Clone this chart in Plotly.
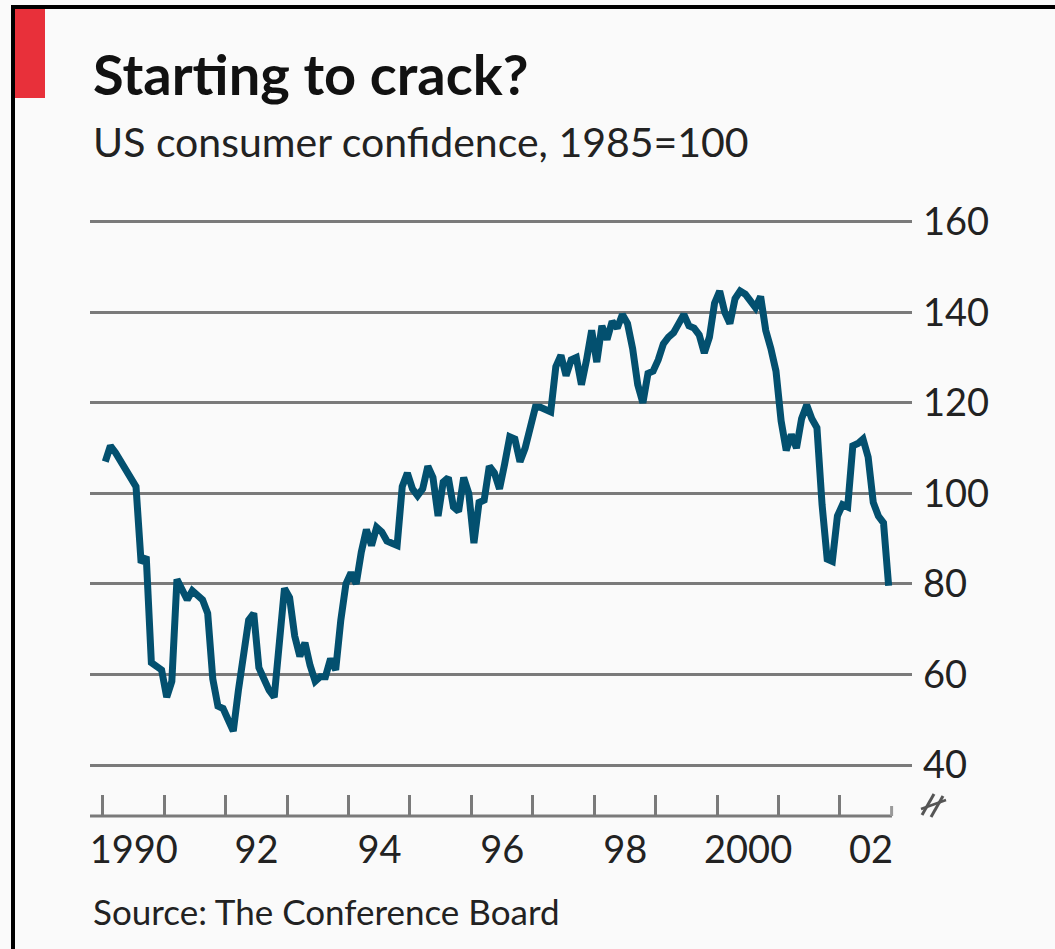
import plotly.graph_objects as go

# ---------------- data ----------------
years = list(range(1990, 2003))
cc_1990 = [107, 110.5, 109, 107, 105, 103, 101.5, 84.7, 86, 62.6, 61.7, 61]
cc_1991 = [55, 58.5, 81, 79, 76.5, 78.5, 77.5, 76.5, 73.5, 59, 53, 52.5]
cc_1992 = [50, 47.5, 56.5, 65, 72, 73.5, 61.5, 59, 56.5, 55, 65.5, 79]
cc_1993 = [77, 68.5, 64, 67, 62, 58.5, 59.5, 59.5, 63.5, 61, 72, 80]
cc_1994 = [82.5, 80, 87, 92, 88.5, 92.5, 91.5, 89.5, 89, 88.5, 101.5, 104.5]
cc_1995 = [101, 99.5, 101, 106, 103.5, 95, 102.5, 103.5, 97, 96, 103.5, 100]
cc_1996 = [89, 98, 98.5, 106, 104.5, 101, 106.5, 112.5, 112, 107, 110, 114]
cc_1997 = [119, 119, 118.5, 118, 128, 130.5, 126, 129.5, 130, 124, 129.5, 136]
cc_1998 = [129, 137, 134, 138, 136.5, 139.5, 137.5, 132, 124, 120, 126.5, 127]
cc_1999 = [129.5, 133, 134.5, 135.5, 137.5, 139.5, 137, 136.5, 135, 131, 134.5, 142]
cc_2000 = [144.7, 140, 137.5, 143, 144.7, 144, 142.5, 141, 143.5, 136, 132, 127]
cc_2001 = [116, 109.5, 113, 110, 116.5, 119.5, 116.5, 114.5, 97.5, 85.5, 85, 95]
cc_2002 = [97.5, 97, 110.5, 111, 112, 108, 98, 95, 93.5, 79.6]

x_tick_years = list(range(1990, 2003))
x_tick_text = ["1990", "", "92", "", "94", "", "96", "", "98", "", "2000", "", "02"]
y_tick_vals = [40, 60, 80, 100, 120, 140, 160]

title_text = "Starting to crack?"
subtitle_text = "US consumer confidence, 1985=100"
source_text = "Source: The Conference Board"

# ---------------- build series ----------------
series = [cc_1990, cc_1991, cc_1992, cc_1993, cc_1994, cc_1995, cc_1996,
          cc_1997, cc_1998, cc_1999, cc_2000, cc_2001, cc_2002]
xs, ys = [], []
for yr, vals in zip(years, series):
    for m, v in enumerate(vals):
        xs.append(yr + m / 12 + 1 / 24)   # mid-month position
        ys.append(v)

# ---------------- geometry ----------------
W_FIG, H_FIG = 1055, 949
L, R_EDGE = 90, 912          # plot area left/right (px)
T, B = 200, 816              # plot area top/bottom (px)
PW, PH = R_EDGE - L, B - T

def px_x(px):
    return (px - L) / PW

def px_y(py):
    return (B - py) / PH

BG = "#fafafa"
GRID = "#7a7a7a"
LINE = "#03506f"
FONT = "Lato, 'Open Sans', sans-serif"

fig = go.Figure()
fig.add_trace(go.Scatter(
    x=xs, y=ys, mode="lines",
    line=dict(color=LINE, width=7, shape="linear"),
    hoverinfo="skip", showlegend=False,
))

fig.update_layout(
    width=W_FIG, height=H_FIG,
    margin=dict(l=L, r=W_FIG - R_EDGE, t=T, b=H_FIG - B, pad=0),
    paper_bgcolor=BG, plot_bgcolor=BG,
    font=dict(family=FONT, color="#222"),
    showlegend=False,
    xaxis=dict(
        range=[1989.793, 2003.172],
        tickmode="array", tickvals=x_tick_years, ticktext=x_tick_text,
        ticks="inside", ticklen=21, tickwidth=3, tickcolor=GRID,
        ticklabelshift=31, ticklabelstandoff=8,
        tickfont=dict(size=38, color="#222", family=FONT),
        showgrid=False, zeroline=False, showline=False,
        fixedrange=True,
    ),
    yaxis=dict(
        range=[28.74, 164.8], side="right",
        tickmode="array", tickvals=y_tick_vals,
        ticks="", showgrid=True, gridcolor=GRID, gridwidth=3,
        zeroline=False, showline=False,
        ticklabelstandoff=10,
        tickfont=dict(size=38, color="#222", family=FONT),
        fixedrange=True,
    ),
)

shapes = []
# x-axis baseline (shorter than gridlines)
shapes.append(dict(type="line", xref="x", yref="paper", x0=1989.76, x1=2002.846,
                   y0=0, y1=0, line=dict(color=GRID, width=3), layer="above"))
# short end tick
shapes.append(dict(type="line", xref="x", yref="paper", x0=2002.84, x1=2002.84,
                   y0=0, y1=px_y(806), line=dict(color="#9a9a9a", width=3)))
# axis-break mark
shapes.append(dict(type="line", xref="paper", yref="paper",
                   x0=px_x(922), y0=px_y(815), x1=px_x(934), y1=px_y(794),
                   line=dict(color="#555", width=3)))
shapes.append(dict(type="line", xref="paper", yref="paper",
                   x0=px_x(931), y0=px_y(817), x1=px_x(943), y1=px_y(796),
                   line=dict(color="#555", width=3)))
shapes.append(dict(type="line", xref="paper", yref="paper",
                   x0=px_x(921), y0=px_y(809), x1=px_x(946), y1=px_y(800),
                   line=dict(color="#555", width=2.5)))
# red tab
shapes.append(dict(type="rect", xref="paper", yref="paper",
                   x0=px_x(15), x1=px_x(45), y0=px_y(98), y1=px_y(9),
                   fillcolor="#e8303a", line=dict(width=0)))
# black frame: top and left
shapes.append(dict(type="rect", xref="paper", yref="paper",
                   x0=px_x(11), x1=px_x(1056), y0=px_y(9), y1=px_y(5),
                   fillcolor="#000", line=dict(width=0)))
shapes.append(dict(type="rect", xref="paper", yref="paper",
                   x0=px_x(11), x1=px_x(15), y0=px_y(950), y1=px_y(5),
                   fillcolor="#000", line=dict(width=0)))
fig.update_layout(shapes=shapes)

annotations = [
    dict(text="<b>" + title_text + "</b>", xref="paper", yref="paper",
         x=px_x(91), y=px_y(74), xanchor="left", yanchor="middle",
         showarrow=False, font=dict(size=56, color="#111", family=FONT)),
    dict(text=subtitle_text, xref="paper", yref="paper",
         x=px_x(91), y=px_y(141), xanchor="left", yanchor="middle",
         showarrow=False, font=dict(size=41, color="#222", family=FONT)),
    dict(text=source_text, xref="paper", yref="paper",
         x=px_x(91), y=px_y(911), xanchor="left", yanchor="middle",
         showarrow=False, font=dict(size=35, color="#222", family=FONT)),
]
fig.update_layout(annotations=annotations)

fig.write_html(
    "out.html",
    config={"displayModeBar": False},
    post_script="document.body.style.margin='0';document.body.style.overflow='hidden';",
)
